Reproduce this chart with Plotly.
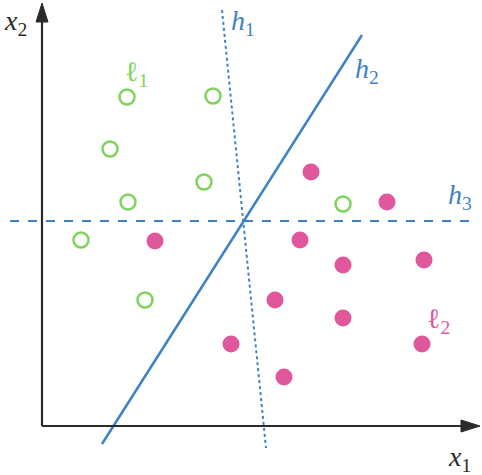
import plotly.graph_objects as go

# data coordinates (origin at the axes corner)
green_x = [85, 171, 68, 162, 86, 39, 103, 301]
green_y = [329, 330, 277, 244, 224, 186, 126, 222]
pink_x = [269, 345, 113, 258, 301, 382, 233, 301, 189, 380, 242]
pink_y = [254, 224, 185, 186, 161, 166, 126, 108, 82, 82, 49]

h1_x = [180, 224]
h1_y = [416, -22]
h2_x = [60, 320]
h2_y = [-18, 391]
h3_x = [-32, 434]
h3_y = [205, 205]

BLUE = "#3f82c4"
GREEN = "#7fd35a"
PINK = "#e0589b"
AX = "#2b2b2b"
SERIF = "Liberation Serif"

fig = go.Figure()
fig.add_trace(go.Scatter(x=h1_x, y=h1_y, mode="lines",
                         line=dict(color=BLUE, width=2, dash="dot")))
fig.add_trace(go.Scatter(x=h2_x, y=h2_y, mode="lines",
                         line=dict(color=BLUE, width=2.5)))
fig.add_trace(go.Scatter(x=h3_x, y=h3_y, mode="lines",
                         line=dict(color=BLUE, width=2, dash="dash")))
fig.add_trace(go.Scatter(x=green_x, y=green_y, mode="markers",
                         marker=dict(size=15, color="white", symbol="circle",
                                     line=dict(color=GREEN, width=2.5))))
fig.add_trace(go.Scatter(x=pink_x, y=pink_y, mode="markers",
                         marker=dict(size=17, color=PINK, line=dict(width=0))))

# axes with arrowheads
fig.add_shape(type="line", x0=0, y0=0, x1=0, y1=410, xref="x", yref="y",
              line=dict(color=AX, width=2.2))
fig.add_shape(type="line", x0=0, y0=0, x1=425, y1=0, xref="x", yref="y",
              line=dict(color=AX, width=2.2))
fig.add_shape(type="path", path="M -6 404 L 6 404 L 0 423 Z", xref="x", yref="y",
              fillcolor=AX, line=dict(color=AX, width=1))
fig.add_shape(type="path", path="M 419 -6 L 419 6 L 438 0 Z", xref="x", yref="y",
              fillcolor=AX, line=dict(color=AX, width=1))

labels = [
    (-27, 404, "<i>x</i><sub>2</sub>", AX),
    (417, -32, "<i>x</i><sub>1</sub>", AX),
    (201, 404, "<i>h</i><sub>1</sub>", BLUE),
    (325, 356, "<i>h</i><sub>2</sub>", BLUE),
    (418, 230, "<i>h</i><sub>3</sub>", BLUE),
    (94, 353, "ℓ<sub>1</sub>", GREEN),
    (396, 106, "ℓ<sub>2</sub>", PINK),
]
for x, y, t, c in labels:
    fig.add_annotation(x=x, y=y, xref="x", yref="y", text=t, showarrow=False,
                       font=dict(family=SERIF, size=28, color=c))

fig.update_layout(
    width=482, height=475, margin=dict(l=0, r=0, t=0, b=0),
    paper_bgcolor="white", plot_bgcolor="white", showlegend=False,
    xaxis=dict(range=[-42, 440], visible=False, fixedrange=True),
    yaxis=dict(range=[-49, 426], visible=False, fixedrange=True),
)
fig.write_html("out.html")
